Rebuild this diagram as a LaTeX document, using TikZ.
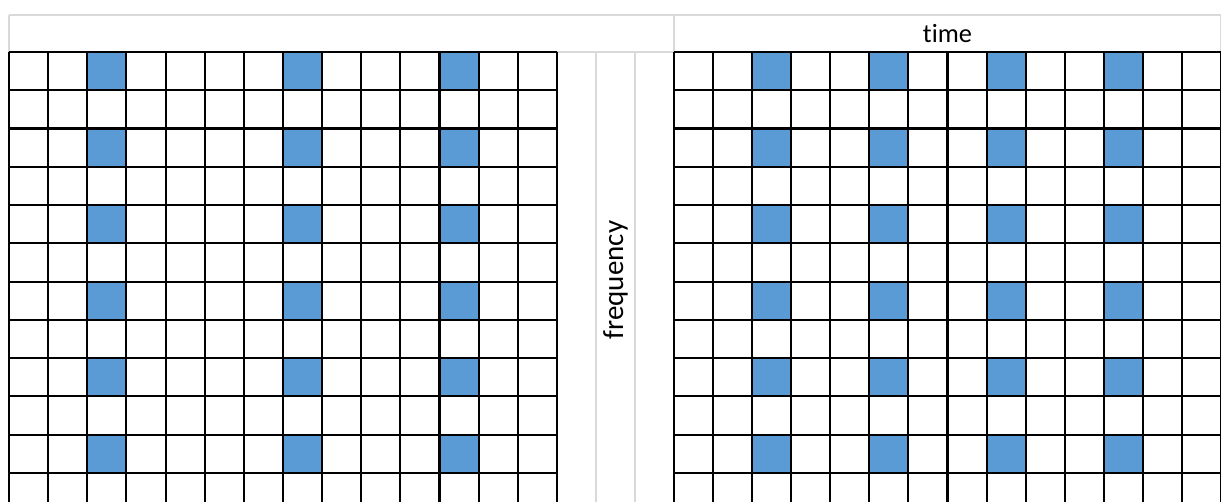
\documentclass[tikz,border=0pt]{standalone}
\usepackage{fontspec}
\setmainfont{Carlito}[Ligatures=NoCommon]
\definecolor{cellBlue}{RGB}{91,155,213}
\definecolor{ruleGray}{RGB}{217,217,217}
\newcommand{\RowH}{38.27}
\newcommand{\CellGrid}[4]{% left edge, column width, columns, blue columns
  \foreach \c in {#4}{
    \foreach \r in {0,2,...,10}
      \fill[cellBlue] ({#1+\c*#2},{52+\r*\RowH}) rectangle ++(#2,\RowH);
  }
  \foreach \i in {0,...,#3}
    \draw[black,line width=1.2pt] ({#1+\i*#2},52) -- ({#1+\i*#2},502);
  \foreach \j in {0,...,11}
    \draw[black,line width=1.2pt] (#1,{52+\j*\RowH}) -- ({#1+#3*#2},{52+\j*\RowH});
}

\begin{document}
\begin{tikzpicture}[x=0.02cm,y=-0.02cm]
  \useasboundingbox[fill=white] (0,0) rectangle (1221,502);
  % header and spacer column
  \draw[ruleGray,line width=1.1pt] (9,15) -- (1221,15) (9,15) -- (9,52)
    (674,15) -- (674,52) (1221,15) -- (1221,52) (557,52) -- (674,52)
    (596,52) -- (596,502) (635,52) -- (635,502);
  \CellGrid{9}{39.14}{14}{2,7,11}
  \CellGrid{674}{39.07}{14}{2,5,8,11}
  \node[font=\fontsize{15}{15}\selectfont] (time) at (947.5,33.5) {time};
  \node[font=\fontsize{16.5}{16.5}\selectfont,rotate=90] (freq) at (615.5,280) {frequency};
\end{tikzpicture}
\end{document}
